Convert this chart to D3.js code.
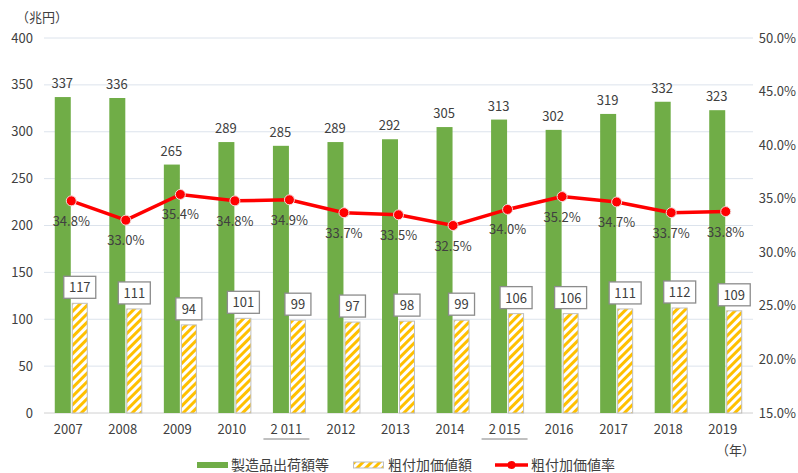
<!DOCTYPE html>
<html><head><meta charset="utf-8">
<script src="https://cdn.jsdelivr.net/npm/d3@7"></script>
<style>body{margin:0;background:#fff}text{font-family:"Noto Sans CJK JP","Noto Sans",sans-serif}</style>
</head><body><svg id="c" width="798" height="473"></svg>
<script>
const years = ["2007","2008","2009","2010","2 011","2012","2013","2014","2 015","2016","2017","2018","2019"];
const shipments = [337,336,265,289,285,289,292,305,313,302,319,332,323];
const valueAdded = [117,111,94,101,99,97,98,99,106,106,111,112,109];
const rate = [34.8,33.0,35.4,34.8,34.9,33.7,33.5,32.5,34.0,35.2,34.7,33.7,33.8];
const leftTicks = [0,50,100,150,200,250,300,350,400];
const rightTicks = [15,20,25,30,35,40,45,50];
const underlined = ["2 011","2 015"];

const svg = d3.select("#c");
const L=44, R=753, T=38, B=413;
const txt="#404040";
const fs=13;
const x = d3.scaleBand().domain(years).range([L,R]);
const y = d3.scaleLinear().domain([0,400]).range([B,T]);
const y2 = d3.scaleLinear().domain([15,50]).range([B,T]);

const defs = svg.append("defs");
const pat = defs.append("pattern").attr("id","hatch").attr("patternUnits","userSpaceOnUse")
  .attr("width",6).attr("height",6).attr("patternTransform","rotate(45)");
pat.append("rect").attr("width",6).attr("height",6).attr("fill","#fff");
pat.append("rect").attr("x",0).attr("width",3).attr("height",6).attr("fill","#FFC000");

// grid
svg.append("g").selectAll("line").data(leftTicks).join("line")
  .attr("x1",L).attr("x2",R).attr("y1",d=>y(d)).attr("y2",d=>y(d))
  .attr("stroke",d=>d===0?"#D0D0D0":"#DCE3EC").attr("stroke-width",1);

// left axis labels
svg.append("g").selectAll("text").data(leftTicks).join("text")
  .attr("x",33).attr("y",d=>y(d)+4.5).attr("text-anchor","end")
  .attr("font-size",fs).attr("fill",txt).text(d=>d);
// right axis labels
svg.append("g").selectAll("text").data(rightTicks).join("text")
  .attr("x",796).attr("y",d=>y2(d)+4.5).attr("text-anchor","end")
  .attr("font-size",fs).attr("fill",txt).text(d=>d.toFixed(1)+"%");

svg.append("text").attr("x",16).attr("y",22).attr("font-size",fs).attr("fill",txt).text("（兆円）");
svg.append("text").attr("x",716).attr("y",455).attr("font-size",fs).attr("fill",txt).text("（年）");

const bw = 16;
const cx = d => x(d)+x.bandwidth()/2;
// green bars
svg.append("g").selectAll("rect").data(years).join("rect")
  .attr("x",(d)=>cx(d)-bw-0.5).attr("width",bw)
  .attr("y",(d,i)=>y(shipments[i])).attr("height",(d,i)=>B-y(shipments[i]))
  .attr("fill","#70AD47");
// hatched bars
svg.append("g").selectAll("rect").data(years).join("rect")
  .attr("x",(d)=>cx(d)+1).attr("width",bw-1)
  .attr("y",(d,i)=>y(valueAdded[i])).attr("height",(d,i)=>B-y(valueAdded[i]))
  .attr("fill","url(#hatch)").attr("stroke","#BFBFBF").attr("stroke-width",1);

// green labels
svg.append("g").selectAll("text").data(years).join("text")
  .attr("x",d=>cx(d)-bw/2-1).attr("y",(d,i)=>y(shipments[i])-9)
  .attr("text-anchor","middle").attr("font-size",fs).attr("fill",txt)
  .text((d,i)=>shipments[i]);

// boxed labels
const bl = svg.append("g").selectAll("g").data(years).join("g")
  .attr("transform",(d,i)=>`translate(${cx(d)+bw/2+0.5},${y(valueAdded[i])-16})`);
bl.append("rect").attr("x",(d,i)=>valueAdded[i]>=100?-16:-13).attr("width",(d,i)=>valueAdded[i]>=100?32:26)
  .attr("y",-11).attr("height",22).attr("fill","#fff").attr("stroke","#8C8C8C").attr("stroke-width",1.3);
bl.append("text").attr("y",5).attr("text-anchor","middle").attr("font-size",fs).attr("fill",txt)
  .text((d,i)=>valueAdded[i]);

// line
const line = d3.line().x(d=>cx(d[0])).y(d=>y2(d[1]));
const pts = years.map((d,i)=>[d,rate[i]]);
svg.append("path").datum(pts).attr("d",line).attr("fill","none").attr("stroke","#FF0000").attr("stroke-width",3.5);
svg.append("g").selectAll("circle").data(pts).join("circle")
  .attr("cx",d=>cx(d[0])).attr("cy",d=>y2(d[1])).attr("r",5)
  .attr("fill","#FF0000").attr("stroke","#F2DCDB").attr("stroke-width",1);
svg.append("g").selectAll("text").data(pts).join("text")
  .attr("x",d=>cx(d[0])).attr("y",d=>y2(d[1])+25)
  .attr("text-anchor","middle").attr("font-size",fs).attr("fill",txt)
  .text(d=>d[1].toFixed(1)+"%");

// x labels
svg.append("g").selectAll("text").data(years).join("text")
  .attr("x",d=>cx(d)-3).attr("y",434).attr("text-anchor","middle")
  .attr("font-size",fs).attr("fill",txt).text(d=>d);
svg.append("g").selectAll("line").data(underlined).join("line")
  .attr("x1",d=>cx(d)-26).attr("x2",d=>cx(d)+20).attr("y1",439).attr("y2",439)
  .attr("stroke","#808080").attr("stroke-width",1);

// legend
const lg = svg.append("g");
lg.append("rect").attr("x",197).attr("y",462).attr("width",31).attr("height",6).attr("fill","#70AD47");
lg.append("text").attr("x",231).attr("y",470).attr("font-size",14).attr("fill",txt).text("製造品出荷額等");
lg.append("rect").attr("x",353.5).attr("y",462).attr("width",30).attr("height",6).attr("fill","url(#hatch)").attr("stroke","#BFBFBF");
lg.append("text").attr("x",388).attr("y",470).attr("font-size",14).attr("fill",txt).text("粗付加価値額");
lg.append("line").attr("x1",495).attr("x2",528).attr("y1",465).attr("y2",465).attr("stroke","#FF0000").attr("stroke-width",3.5);
lg.append("circle").attr("cx",511.5).attr("cy",465).attr("r",4).attr("fill","#FF0000");
lg.append("text").attr("x",531).attr("y",470).attr("font-size",14).attr("fill",txt).text("粗付加価値率");
</script></body></html>
